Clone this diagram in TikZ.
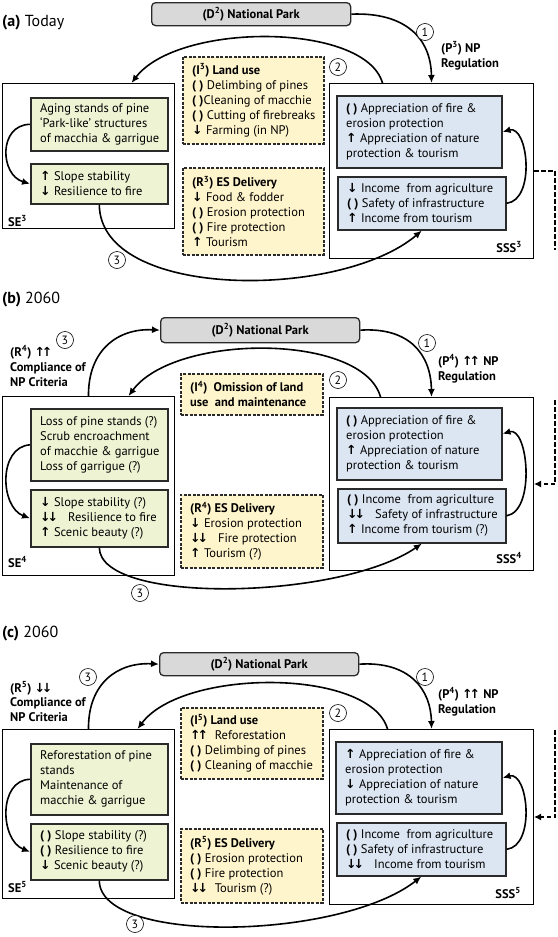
\documentclass[tikz,border=0pt]{standalone}
\usepackage{fontspec}
\setmainfont{PT Sans}
\newfontfamily\arrowfont{DejaVu Sans}
\usetikzlibrary{arrows.meta,calc}
\definecolor{greenf}{HTML}{EDF3D3}
\definecolor{bluef}{HTML}{DCE6F2}
\definecolor{yellowf}{HTML}{FFF5CC}
\definecolor{grayf}{HTML}{D9D9D9}
\definecolor{edge}{HTML}{2A2A2A}
\newcommand\Up{{\arrowfont\bfseries ↑}}
\newcommand\Dn{{\arrowfont\bfseries ↓}}
\newcommand\UU{\Up\kern-3pt\Up}
\newcommand\DD{\Dn\kern-3pt\Dn}
\newcommand\Pp{\textbf{(\kern3.2pt)}}
\newcommand\Bx[7]{%
  \pgfmathsetmacro\bxw{#5-#3}\pgfmathsetmacro\bxh{#6-#4}%
  \node[#2, anchor=north west, minimum width=\bxw pt, minimum height=\bxh pt] (#1) at (#3,#4) {};
  \node[boxtext] (#1t) at ($(#1.west)+(10,0)$) {#7};}
\tikzset{
  boxtext/.style={align=left, anchor=west, inner sep=0pt},
  outerbox/.style={draw=black, line width=1pt, inner sep=0pt},
  gbox/.style={draw=edge, line width=1.6pt, fill=greenf, inner sep=0pt},
  bbox/.style={draw=edge, line width=1.6pt, fill=bluef, inner sep=0pt},
  dbox/.style={draw=edge, line width=1.5pt, dash pattern=on 3pt off 1.5pt, fill=yellowf, inner sep=0pt},
  dpbox/.style={draw=edge, line width=1.3pt, rounded corners=4pt, fill=grayf, inner sep=0pt},
  conn/.style={line width=1.6pt, -{Latex[length=8pt,width=7pt]}},
  dline/.style={line width=1.8pt, dash pattern=on 4.5pt off 2.5pt},
  num/.style={circle, draw, line width=0.6pt, fill=white, minimum size=17pt, inner sep=0pt, font=\fontsize{12}{12}\selectfont},
  lbl/.style={anchor=base west, inner sep=0pt, font=\fontsize{12.5}{15}\selectfont\bfseries},
  dptext/.style={inner sep=0pt, font=\fontsize{12.5}{15}\selectfont\bfseries},
  ttl/.style={anchor=base west, inner sep=0pt, font=\fontsize{16}{18}\selectfont},
}
\begin{document}
\begin{tikzpicture}[x=1pt,y=-1pt,font=\fontsize{12.5}{15}\selectfont]
\fill[white] (0,0) rectangle (557,937);
\useasboundingbox (0,0) rectangle (557,937);

% ================= (a) =================
\node[ttl] (ta) at (2,26) {\textbf{(a)} Today};
\Bx{D2a}{dpbox}{151}{2}{350}{25}{}
\node[dptext] (D2at) at (D2a.center) {(D\textsuperscript{2}) National Park};
\Bx{SEa}{outerbox}{2}{83}{174}{228}{}
\Bx{g1a}{gbox}{30}{97}{167}{150}{Aging stands of pine\\‘Park-like’ structures\\of macchia \& garrigue}
\Bx{g2a}{gbox}{30}{163}{167}{203}{\Up\ Slope stability\\\Dn\ Resilience to fire}
\Bx{Ia}{dbox}{182}{56}{323}{143}{\textbf{(I\textsuperscript{3}) Land use}\\\Pp\ Delimbing of pines\\\Pp Cleaning of macchie\\\Pp\ Cutting of firebreaks\\\Dn\ Farming (in NP)}
\Bx{Ra}{dbox}{182}{167}{323}{254}{\textbf{(R\textsuperscript{3}) ES Delivery}\\\Dn\ Food \& fodder\\\Pp\ Erosion protection\\\Pp\ Fire protection\\\Up\ Tourism}
\Bx{SSSa}{outerbox}{329}{83}{533}{258}{}
\Bx{b1a}{bbox}{336}{95}{501}{167}{\Pp\ Appreciation of fire \&\\erosion protection\\\Up\ Appreciation of nature\\protection \& tourism}
\Bx{b2a}{bbox}{337}{176}{505}{229}{\Dn\ Income\ \ from agriculture\\\Pp\ Safety of infrastructure\\\Up\ Income from tourism}
\node[lbl] (sea) at (8,226) {SE\textsuperscript{3}};
\node[lbl, anchor=base east] (sssa) at (522,252) {SSS\textsuperscript{3}};
\node[lbl] (pa1) at (441,52) {(P\textsuperscript{3}) NP};
\node[lbl] (pa2) at (441,67) {Regulation};

\draw[conn] (D2a.east) .. controls (405,12) and (431,38) .. (SSSa.north);
\draw[conn] ($(SSSa.north)+(-49,0)$) .. controls (365,22) and (178,22) .. ($(SEa.north)+(43,0)$);
\draw[conn] (g2a.south) .. controls (100,300) and (340,300) .. (b2a.south);
\draw[conn] (g1a.west) .. controls (-2,125) and (0,175) .. (g2a.west);
\draw[conn] (b2a.east) .. controls (536,200) and (528,125) .. (b1a.east);
\coordinate (da) at (555,250);
\draw[dline] (SSSa.east) -| (da);
\node[num] (na1) at (425,32) {1};
\node[num] (na2) at (338,67) {2};
\node[num] (na3) at (117,260) {3};

% ================= (b) =================
\node[ttl] (tb) at (2,303) {\textbf{(b)} 2060};
\Bx{D2b}{dpbox}{160}{317}{359}{342}{}
\node[dptext] (D2bt) at (D2b.center) {(D\textsuperscript{2}) National Park};
\Bx{SEb}{outerbox}{2}{396}{174}{575}{}
\Bx{g1b}{gbox}{30}{408}{167}{480}{Loss of pine stands (?)\\Scrub encroachment\\of macchie \& garrigue\\Loss of garrigue (?)}
\Bx{g2b}{gbox}{30}{489}{167}{546}{\Dn\ Slope stability (?)\\\DD\ \ \ Resilience to fire\\\Up\ Scenic beauty (?)}
\Bx{Ib}{dbox}{180}{373}{322}{414}{\textbf{(I\textsuperscript{4})\ \ Omission of land}\\\textbf{use\ \ and maintenance}}
\Bx{Rb}{dbox}{180}{494}{322}{567}{\textbf{(R\textsuperscript{4}) ES Delivery}\\\Dn\ Erosion protection\\\DD\ \ \ Fire protection\\\Up\ Tourism (?)}
\Bx{SSSb}{outerbox}{329}{397}{533}{570}{}
\Bx{b1b}{bbox}{336}{407}{501}{479}{\Pp\ Appreciation of fire \&\\erosion protection\\\Up\ Appreciation of nature\\protection \& tourism}
\Bx{b2b}{bbox}{337}{488}{505}{542}{\Pp\ Income\ \ from agriculture\\\DD\ \ \ Safety of infrastructure\\\Up\ Income from tourism (?)}
\node[lbl] (seb) at (8,567) {SE\textsuperscript{4}};
\node[lbl, anchor=base east] (sssb) at (522,563) {SSS\textsuperscript{4}};
\node[lbl] (pb1) at (438,365) {(P\textsuperscript{4}) \UU\ NP};
\node[lbl] (pb2) at (438,380) {Regulation};
\node[lbl] (rb1) at (10,356) {(R\textsuperscript{4}) \UU};
\node[lbl] (rb2) at (10,371) {Compliance of};
\node[lbl] (rb3) at (10,386) {NP Criteria};

\draw[conn] (D2b.east) .. controls (410,327) and (431,355) .. (SSSb.north);
\draw[conn] ($(SSSb.north)+(-51,0)$) .. controls (363,333) and (175,333) .. ($(SEb.north)+(40,0)$);
\draw[conn] (SEb.north) .. controls (88,350) and (118,328) .. (D2b.west);
\draw[conn] (g2b.south) .. controls (100,605) and (340,600) .. (b2b.south);
\draw[conn] (g1b.west) .. controls (-2,447) and (0,507) .. (g2b.west);
\draw[conn] (b2b.east) .. controls (536,511) and (528,426) .. ($(b1b.east)+(0,-10)$);
\coordinate (db) at (555,400);
\draw[dline, -{Latex[length=7pt,width=7pt]}] (db) |- (SSSb.east);
\node[num] (nb3t) at (65,340) {3};
\node[num] (nb1) at (427,343) {1};
\node[num] (nb2) at (338,380) {2};
\node[num] (nb3) at (140,593) {3};

% ================= (c) =================
\node[ttl] (tc) at (2,637) {\textbf{(c)} 2060};
\Bx{D2c}{dpbox}{159}{652}{358}{675}{}
\node[dptext] (D2ct) at (D2c.center) {(D\textsuperscript{2}) National Park};
\Bx{SEc}{outerbox}{2}{729}{174}{898}{}
\Bx{g1c}{gbox}{30}{743}{167}{814}{Reforestation of pine\\stands\\Maintenance of\\macchie \& garrigue}
\Bx{g2c}{gbox}{30}{823}{167}{879}{\Pp\ Slope stability (?)\\\Pp\ Resilience to fire\\\Dn\ Scenic beauty (?)}
\Bx{Ic}{dbox}{180}{707}{322}{778}{\textbf{(I\textsuperscript{5}) Land use}\\\UU\ \ Reforestation\\\Pp\ Delimbing of pines\\\Pp\ Cleaning of macchie}
\Bx{Rc}{dbox}{180}{828}{322}{902}{\textbf{(R\textsuperscript{5}) ES Delivery}\\\Pp\ Erosion protection\\\Pp\ Fire protection\\\DD\ \ Tourism (?)}
\Bx{SSSc}{outerbox}{329}{729}{533}{904}{}
\Bx{b1c}{bbox}{335}{741}{501}{813}{\Up\ Appreciation of fire \&\\erosion protection\\\Dn\ Appreciation of nature\\protection \& tourism}
\Bx{b2c}{bbox}{336}{822}{505}{875}{\Pp\ Income\ \ from agriculture\\\Pp\ Safety of infrastructure\\\DD\ \ \ Income from tourism}
\node[lbl] (sec) at (8,892) {SE\textsuperscript{5}};
\node[lbl, anchor=base east] (sssc) at (521,898) {SSS\textsuperscript{5}};
\node[lbl] (pc1) at (438,698) {(P\textsuperscript{4}) \UU\ NP};
\node[lbl] (pc2) at (438,713) {Regulation};
\node[lbl] (rc1) at (10,692) {(R\textsuperscript{5}) \DD};
\node[lbl] (rc2) at (10,706) {Compliance of};
\node[lbl] (rc3) at (10,721) {NP Criteria};

\draw[conn] (D2c.east) .. controls (410,661) and (431,690) .. (SSSc.north);
\draw[conn] ($(SSSc.north)+(-44,0)$) .. controls (370,668) and (183,668) .. ($(SEc.north)+(49,0)$);
\draw[conn] (SEc.north) .. controls (88,683) and (118,662) .. (D2c.west);
\draw[conn] (g2c.south) .. controls (100,945) and (340,940) .. (b2c.south);
\draw[conn] (g1c.west) .. controls (-2,780) and (0,840) .. (g2c.west);
\draw[conn] (b2c.east) .. controls (536,846) and (528,771) .. (b1c.east);
\coordinate (dc) at (555,730);
\draw[dline, -{Latex[length=7pt,width=7pt]}] (dc) |- (SSSc.east);
\node[num] (nc3t) at (88,677) {3};
\node[num] (nc1) at (425,677) {1};
\node[num] (nc2) at (338,713) {2};
\node[num] (nc3) at (135,924) {3};
\end{tikzpicture}
\end{document}
